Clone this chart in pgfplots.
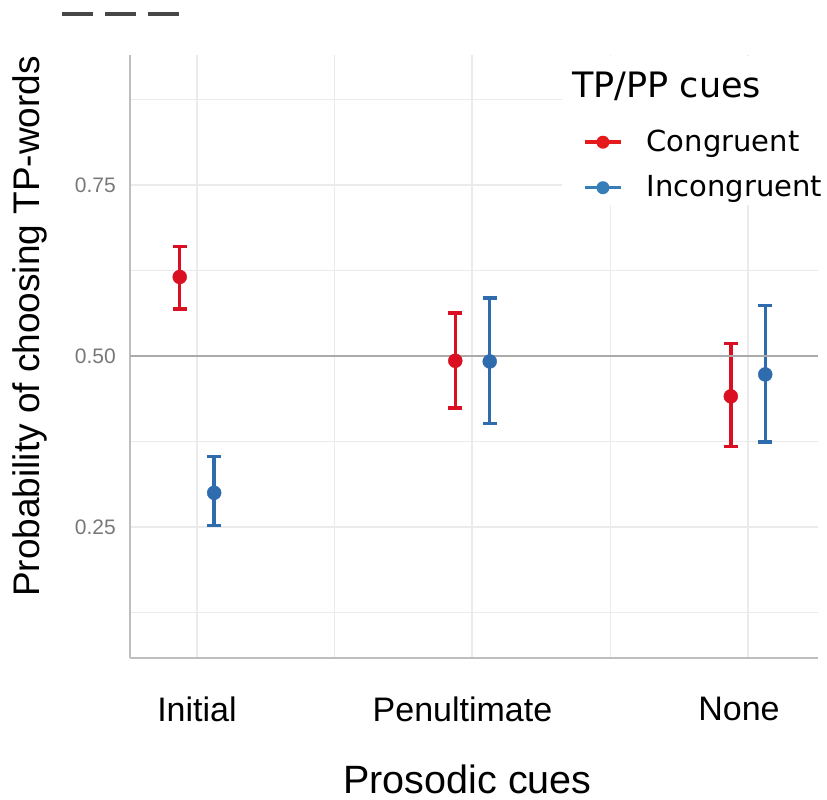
\documentclass[border=0pt]{standalone}
\usepackage{fontspec}
\setmainfont{Liberation Sans}
\newfontfamily\legfont{DejaVu Sans}
\usepackage{pgfplots}
\pgfplotsset{compat=1.18}
\usepackage{pgfplotstable}
\definecolor{cRed}{RGB}{218,16,34}
\definecolor{cBlue}{RGB}{46,108,174}
\definecolor{lRed}{RGB}{228,26,28}
\definecolor{lBlue}{RGB}{55,126,184}
\definecolor{gridc}{RGB}{235,235,235}
\definecolor{axisc}{RGB}{190,190,190}
\definecolor{hlc}{RGB}{170,170,170}
\definecolor{tickc}{RGB}{120,120,120}

\pgfplotstableread{
x y ep em
0.9375 0.6155 0.0445 0.0465
1.9375 0.493 0.070 0.069
2.9375 0.441 0.077 0.073
}\congruent
\pgfplotstableread{
x y ep em
1.0625 0.300 0.053 0.048
2.0625 0.492 0.093 0.091
3.0625 0.473 0.101 0.099
}\incongruent

\begin{document}
\begin{tikzpicture}[x=1bp,y=1bp]
\useasboundingbox (0,0) rectangle (827,800);
\draw[line width=4bp, color=black!72, dash pattern=on 31bp off 12bp] (62,786) -- (181,786);
\begin{axis}[
  at={(130bp,142bp)}, anchor=south west,
  scale only axis, width=688bp, height=603bp,
  xmin=0.757, xmax=3.254, ymin=0.0585, ymax=0.940,
  axis lines*=left,
  axis line style={-, color=axisc, line width=2bp},
  xtick={1,2,3}, xticklabels={Initial,{Penultimate\rule{20bp}{0pt}},{None\rule{18bp}{0pt}}},
  minor xtick={1.5,2.5},
  ytick={0.25,0.5,0.75},
  minor ytick={0.125,0.375,0.625,0.875},
  /pgf/number format/.cd, fixed, fixed zerofill, precision=2, assume math mode=true, /pgfplots/.cd,
  major tick length=0pt, minor tick length=0pt,
  grid=both,
  major grid style={color=gridc, line width=2bp},
  minor grid style={color=gridc, line width=1.5bp},
  xticklabel style={font=\fontsize{34bp}{38bp}\selectfont, inner sep=0pt, anchor=north, yshift=-39bp},
  yticklabel style={font=\fontsize{21bp}{24bp}\selectfont, color=tickc, inner sep=0pt, anchor=east, xshift=-14bp},
  xlabel={Prosodic cues},
  xlabel style={font=\fontsize{39.5bp}{44bp}\selectfont, at={(axis description cs:0.4906,-0.2240)}, anchor=base, inner sep=0pt},
  ylabel={Probability of choosing TP-words},
  ylabel style={font=\fontsize{37bp}{42bp}\selectfont, at={(axis description cs:-0.1453,0.5498)}, anchor=center, rotate=0},
  legend style={at={(rel axis cs:0.6584,0.8789)}, anchor=north west, draw=none, fill=none,
    inner sep=0pt, row sep=17.5bp, column sep=24bp,
    font=\legfont\fontsize{29bp}{34bp}\selectfont,
    nodes={inner sep=0pt, text height=23bp, text depth=5bp}},
  legend cell align=left,
]
\fill[white] (rel axis cs:0.628,0.752) rectangle (rel axis cs:1,0.998);

\addplot[forget plot, only marks, mark=*, mark size=7bp, color=cRed,
  error bars/.cd, y dir=both, y explicit,
  error bar style={line width=3.5bp, color=cRed},
  error mark options={rotate=90, mark size=7bp, line width=3.5bp, color=cRed}]
  table[x=x, y=y, y error plus=ep, y error minus=em] {\congruent};
\addplot[forget plot, only marks, mark=*, mark size=7bp, color=cBlue,
  error bars/.cd, y dir=both, y explicit,
  error bar style={line width=3.5bp, color=cBlue},
  error mark options={rotate=90, mark size=7bp, line width=3.5bp, color=cBlue}]
  table[x=x, y=y, y error plus=ep, y error minus=em] {\incongruent};
\addplot[forget plot, color=hlc, line width=2bp] coordinates {(0.757,0.5) (3.254,0.5)};

\node[anchor=base west, inner sep=0pt, font=\legfont\fontsize{35bp}{40bp}\selectfont] at (rel axis cs:0.6424,0.9303) {TP/PP cues};

\addlegendimage{legend image code/.code={\draw[draw=lRed, line width=3.5bp] (0bp,0bp) -- (36bp,0bp); \path[fill=lRed, draw=none] (18bp,0bp) circle (6.5bp);}}
\addlegendentry{Congruent}
\addlegendimage{legend image code/.code={\draw[draw=lBlue, line width=3.5bp] (0bp,0bp) -- (36bp,0bp); \path[fill=lBlue, draw=none] (18bp,0bp) circle (6.5bp);}}
\addlegendentry{Incongruent}
\end{axis}
\end{tikzpicture}
\end{document}
